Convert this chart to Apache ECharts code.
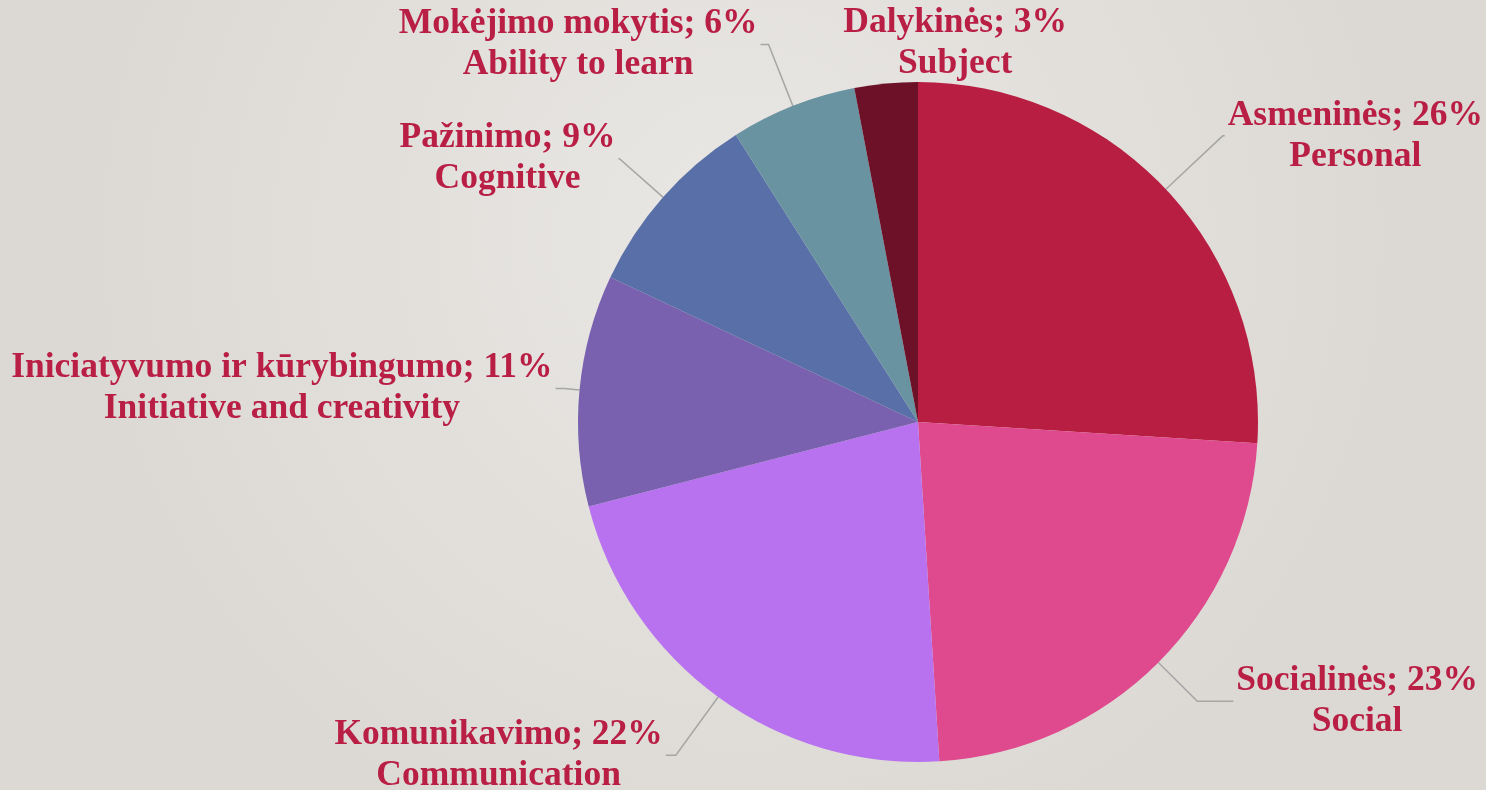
<!DOCTYPE html>
<html>
<head>
<meta charset="utf-8">
<script src="https://cdn.jsdelivr.net/npm/echarts@6/dist/echarts.min.js"></script>
<style>
  html, body { margin: 0; padding: 0; }
  #chart { width: 1486px; height: 790px; }
</style>
</head>
<body>
<div id="chart"></div>
<script>
// duomenys (kompetencijų grupės, %)
var namesLt = ['Asmeninės', 'Socialinės', 'Komunikavimo', 'Iniciatyvumo ir kūrybingumo', 'Pažinimo', 'Mokėjimo mokytis', 'Dalykinės'];
var namesEn = ['Personal', 'Social', 'Communication', 'Initiative and creativity', 'Cognitive', 'Ability to learn', 'Subject'];
var shares  = [26, 23, 22, 11, 9, 6, 3];

// stilius
var colors   = ['#b81e42', '#df4a8e', '#b872ef', '#7a61b0', '#596fa7', '#6993a0', '#6d1128'];
var lineLen  = [78, 55, 72, 15, 58, 66, 40];
var lineLen2 = [2, 36, 10, 9, 1, 8, 0];

var seriesData = namesLt.map(function (n, i) {
    return {
        name: n,
        value: shares[i],
        en: namesEn[i],
        itemStyle: {color: colors[i]},
        labelLine: {show: i !== 6, length: lineLen[i], length2: lineLen2[i]}
    };
});

var option = {
    backgroundColor: {
        type: 'radial', x: 0.5, y: 0.3, r: 0.85,
        colorStops: [
            {offset: 0, color: '#e9e7e4'},
            {offset: 1, color: '#dcd9d4'}
        ]
    },
    animation: false,
    series: [
        {
            type: 'pie',
            center: [918, 422],
            radius: 340,
            startAngle: 90,
            clockwise: true,
            avoidLabelOverlap: false,
            itemStyle: {borderWidth: 0},
            label: {
                show: true,
                distanceToLabelLine: 3,
                fontFamily: 'Liberation Serif',
                fontWeight: 'bold',
                fontSize: 35.5,
                lineHeight: 41,
                color: '#b91e45',
                formatter: function (p) {
                    return '{a|' + p.name + '; ' + p.value + '%}\n{a|' + p.data.en + '}';
                },
                rich: {
                    a: {
                        align: 'center',
                        fontFamily: 'Liberation Serif',
                        fontWeight: 'bold',
                        fontSize: 35.5,
                        lineHeight: 41,
                        color: '#b91e45'
                    }
                }
            },
            labelLine: {
                lineStyle: {color: '#a6a6a6', width: 1.5}
            },
            labelLayout: function (p) {
                // Dalykinės: etiketė virš segmento, be linijos
                if (p.dataIndex === 6) {
                    return {dx: p.labelRect.width - 36};
                }
                return {};
            },
            data: seriesData
        }
    ]
};

echarts.init(document.getElementById('chart')).setOption(option);
</script>
</body>
</html>
